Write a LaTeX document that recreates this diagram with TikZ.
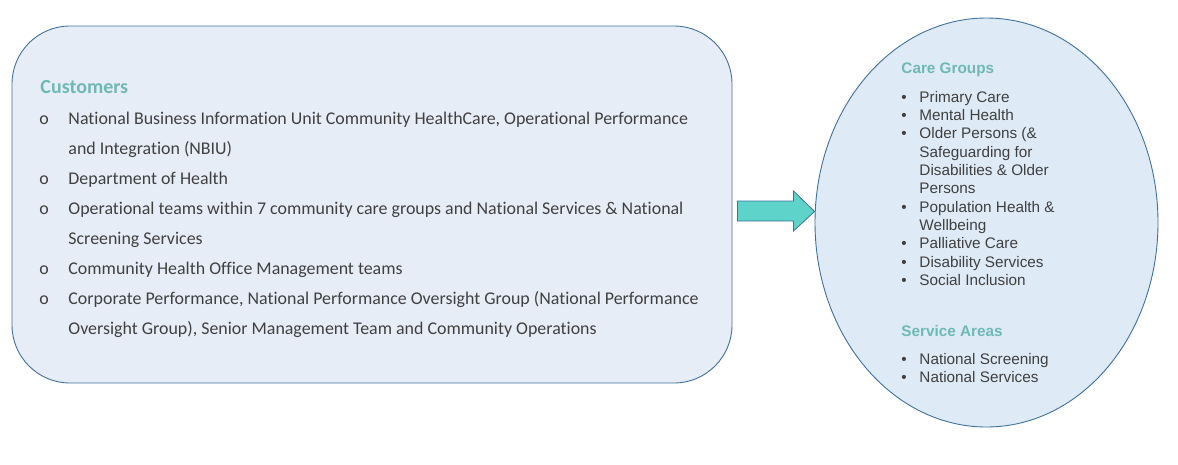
\documentclass[tikz,border=0pt]{standalone}
\usepackage{fontspec}
\usetikzlibrary{shapes.geometric}
\newfontfamily\calibri[Ligatures=NoCommon]{Carlito}
\newfontfamily\arial{Liberation Sans}
\definecolor{boxfill}{HTML}{E7EDF7}
\definecolor{ovalfill}{HTML}{DEEAF6}
\definecolor{edge}{HTML}{41719C}
\definecolor{heading}{HTML}{6FB9B5}
\definecolor{txt}{HTML}{404040}
\definecolor{arrowfill}{HTML}{5ED3CA}

\begin{document}
\begin{tikzpicture}[x=1pt,y=-1pt,line width=0.9pt]
\useasboundingbox (0,0) rectangle (1178,464);
\def\ls{30}    % line pitch, customers box
\def\rs{18.35} % line pitch, oval
\tikzset{
  lefttxt/.style={anchor=base west,inner sep=0pt,text=txt,font=\calibri\fontsize{17.9}{21}\selectfont},
  righttxt/.style={anchor=base west,inner sep=0pt,text=txt,font=\arial\fontsize{15.3}{18}\selectfont},
  title/.style={anchor=base west,inner sep=0pt,text=heading,font=\bfseries}
}
% shapes
\node[draw=edge,fill=boxfill,rounded corners=58pt,minimum width=720pt,minimum height=357pt] (cust) at (372,204.5) {};
\node[draw=edge,fill=ovalfill,ellipse,inner sep=0pt,minimum width=343pt,minimum height=409pt] (oval) at (986.5,222.5) {};
\draw[edge,fill=arrowfill,line width=0.8pt] ([yshift=11pt]oval.west) -- ++(-21,-20.5) -- ++(0,10) -- ++(-56,0)
  -- ++(0,20) -- ++(56,0) -- ++(0,10) -- cycle;

% customers
\node[title,font=\calibri\bfseries\fontsize{20}{24}\selectfont] (custhead) at (40,93.5) {Customers};
\foreach \k/\t [count=\i] in {
  0/{National Business Information Unit Community HealthCare, Operational Performance},
  1/{and Integration (NBIU)},
  2/{Department of Health},
  3/{Operational teams within 7 community care groups and National Services \& National},
  4/{Screening Services},
  5/{Community Health Office Management teams},
  6/{Corporate Performance, National Performance Oversight Group (National Performance},
  7/{Oversight Group), Senior Management Team and Community Operations}}
  \node[lefttxt] (c\i) at (68,{124+\k*\ls}) {\t};
\foreach \k in {0,2,3,5,6}
  \node[lefttxt] (co\k) at (39,{124+\k*\ls}) {o};

% care groups
\node[title,font=\arial\bfseries\fontsize{15.3}{18}\selectfont] (cghead) at (901,73.5) {Care Groups};
\foreach \k/\t [count=\i] in {
  0/{Primary Care},1/{Mental Health},2/{Older Persons (\&},3/{Safeguarding for},
  4/{Disabilities \& Older},5/{Persons},6/{Population Health \&},7/{Wellbeing},
  8/{Palliative Care},9/{Disability Services},10/{Social Inclusion}}
  \node[righttxt] (g\i) at (919,{102+\k*\rs}) {\t};
\foreach \k in {0,1,2,6,8,9,10}
  \node[righttxt] (gb\k) at (901,{102+\k*\rs}) {•};

% service areas
\node[title,font=\arial\bfseries\fontsize{15.3}{18}\selectfont] (sahead) at (901,336.5) {Service Areas};
\foreach \k/\t [count=\i] in {0/{National Screening},1/{National Services}} {
  \node[righttxt] (s\i) at (919,{364.5+\k*\rs}) {\t};
  \node[righttxt] (sb\i) at (901,{364.5+\k*\rs}) {•};
}
\end{tikzpicture}
\end{document}
